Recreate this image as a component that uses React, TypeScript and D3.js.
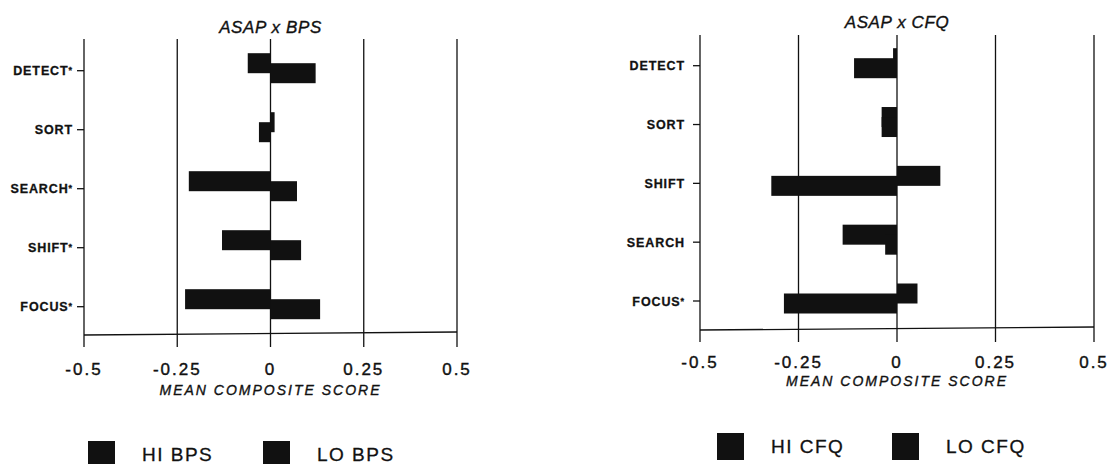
import React from 'react';
import * as d3 from 'd3';

// values
const bpsCategories = ['DETECT*', 'SORT', 'SEARCH*', 'SHIFT*', 'FOCUS*'];
const hiBps = [-0.061, 0.011, -0.219, -0.13, -0.229];
const loBps = [0.121, -0.031, 0.071, 0.082, 0.133];

const cfqCategories = ['DETECT', 'SORT', 'SHIFT', 'SEARCH', 'FOCUS*'];
const hiCfq = [-0.01, -0.039, 0.11, -0.138, 0.052];
const loCfq = [-0.109, -0.039, -0.319, -0.03, -0.287];

const xTicks = [-0.5, -0.25, 0, 0.25, 0.5];
const xTickLabels = ['-0.5', '-0.25', '0', '0.25', '0.5'];

const FONT = '"Liberation Sans", Arial, Helvetica, sans-serif';
const INK = '#111';

const Panel = ({ title, categories, hi, lo, legend, x0, x1, yTop, yAxis, yFirst, yLast, labelX, tickLabelY, axisTitleY, titleY, legendY, legendXs }) => {
  const x = d3.scaleLinear().domain([-0.5, 0.5]).range([x0, x1]);
  const y = d3.scalePoint().domain(categories).range([yFirst, yLast]);
  const barH = 20;
  const mid = (x0 + x1) / 2;

  const bar = (v, c, top, key) => {
    const a = x(0);
    const b = x(v);
    return (
      <rect key={key} x={Math.min(a, b)} y={y(c) + top} width={Math.abs(b - a)} height={barH} fill={INK} />
    );
  };

  return (
    <g>
      <text x={mid} y={titleY} textAnchor="middle" fontFamily={FONT} fontStyle="italic" fontSize={17}
        fill={INK} stroke={INK} strokeWidth={0.35} letterSpacing={0.6}>{title}</text>

      {xTicks.map(t => (
        <line key={t} x1={x(t)} x2={x(t)} y1={yTop} y2={yAxis + 12} stroke={INK} strokeWidth={1.3} />
      ))}
      <line x1={x0} x2={x1} y1={yAxis} y2={yAxis - 3} stroke={INK} strokeWidth={1.3} />

      {categories.map(c => (
        <g key={c}>
          <line x1={x0 - 7} x2={x0} y1={y(c)} y2={y(c)} stroke={INK} strokeWidth={1.3} />
          <text x={labelX} y={y(c)} dy="0.36em" textAnchor="end" fontFamily={FONT} fontWeight="bold"
            fontSize={12.5} letterSpacing={0.9} fill={INK} stroke={INK} strokeWidth={0.3}>
            {c.replace('*', '')}
            {c.endsWith('*') ? <tspan fontSize={9} dy="-0.2em">*</tspan> : null}
          </text>
        </g>
      ))}

      {categories.map((c, i) => bar(hi[i], c, -17.5, 'h' + c))}
      {categories.map((c, i) => bar(lo[i], c, -7.5, 'l' + c))}

      {xTicks.map((t, i) => (
        <text key={t} x={x(t)} y={tickLabelY} textAnchor="middle" fontFamily={FONT} fontSize={17}
          letterSpacing={2} fill={INK} stroke={INK} strokeWidth={0.4}>{xTickLabels[i]}</text>
      ))}
      <text x={mid} y={axisTitleY} textAnchor="middle" fontFamily={FONT} fontStyle="italic" fontSize={14}
        letterSpacing={2} fill={INK} stroke={INK} strokeWidth={0.35}>MEAN COMPOSITE SCORE</text>

      {legend.map((name, i) => (
        <g key={name}>
          <rect x={legendXs[i]} y={legendY - 13} width={27} height={27} fill={INK} />
          <text x={legendXs[i] + 54} y={legendY + 7} fontFamily={FONT} fontSize={19} letterSpacing={1.5}
            fill={INK} stroke={INK} strokeWidth={0.3}>{name}</text>
        </g>
      ))}
    </g>
  );
};

export default function App() {
  return (
    <svg width={1110} height={464} style={{ position: 'absolute', left: 0, top: 0, background: '#fff' }}>
      <Panel title="ASAP x BPS" categories={bpsCategories} hi={hiBps} lo={loBps} legend={['HI BPS', 'LO BPS']}
        x0={84} x1={457} yTop={39} yAxis={335} yFirst={70.7} yLast={306.7} labelX={73}
        tickLabelY={375} axisTitleY={395} titleY={33} legendY={454} legendXs={[88, 263]} />
      <Panel title="ASAP x CFQ" categories={cfqCategories} hi={hiCfq} lo={loCfq} legend={['HI CFQ', 'LO CFQ']}
        x0={700} x1={1094} yTop={35} yAxis={330} yFirst={65.7} yLast={301} labelX={685}
        tickLabelY={368} axisTitleY={386} titleY={28} legendY={446} legendXs={[717, 892]} />
    </svg>
  );
}
